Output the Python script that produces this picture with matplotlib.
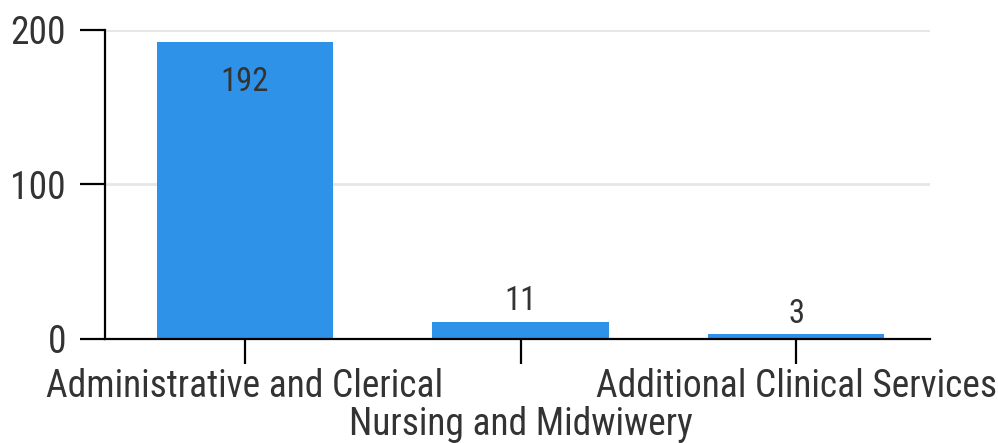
import matplotlib
matplotlib.use("Agg")
import matplotlib.pyplot as plt
from matplotlib import font_manager

categories = ["Administrative and Clerical", "Nursing and Midwiwery", "Additional Clinical Services"]
values = [192, 11, 3]
y_ticks = [0, 100, 200]

names = {f.name for f in font_manager.fontManager.ttflist}
family = "Roboto Condensed" if "Roboto Condensed" in names else "Roboto"
plt.rcParams["font.family"] = [family, "DejaVu Sans"]
txt = "#333333"

fig = plt.figure(figsize=(9.98, 4.43), dpi=100)
ax = fig.add_axes([0.1052, 0.2348, 0.8267, 0.6975])

x = list(range(len(categories)))
ax.bar(x, values, width=0.64, color="#2e93e8", zorder=3)

for xi, v in zip(x, values):
    if v > 100:
        ax.text(xi, v - 15, str(v), ha="center", va="top", fontsize=23.5, color=txt, zorder=4)
    else:
        ax.text(xi, v + 3, str(v), ha="center", va="bottom", fontsize=23.5, color=txt, zorder=4)

ax.set_xlim(-0.508, 2.486)
ax.set_ylim(0, 200)
ax.set_yticks(y_ticks)
ax.set_xticks(x)
# stagger: every second category label goes one row lower
ax.set_xticklabels([c if i % 2 == 0 else "" for i, c in enumerate(categories)])
for i, c in enumerate(categories):
    if i % 2 == 1:
        ax.annotate(c, xy=(i, 0), xycoords=("data", "axes fraction"), xytext=(0, -48.5),
                    textcoords="offset points", ha="center", va="top", fontsize=27,
                    color=txt, annotation_clip=False)
ax.grid(axis="y", color="#e6e6e6", lw=2, zorder=0)
ax.set_axisbelow(True)

for s in ["top", "right"]:
    ax.spines[s].set_visible(False)
for s in ["left", "bottom"]:
    ax.spines[s].set_linewidth(1.6)
    ax.spines[s].set_color("black")
    ax.spines[s].set_zorder(5)
ax.tick_params(axis="both", length=18, width=1.6, color="black", labelsize=27, labelcolor=txt)
ax.tick_params(axis="y", pad=10)
ax.tick_params(axis="x", pad=3)

fig.savefig("out.png", dpi=100)
